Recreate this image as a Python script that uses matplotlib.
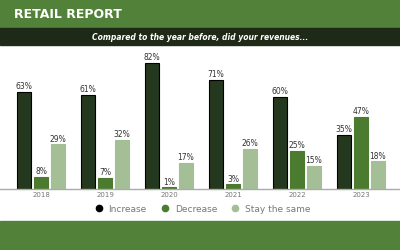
import numpy as np
import matplotlib.pyplot as plt
from matplotlib.patches import Rectangle
from matplotlib.lines import Line2D

years = ["2018", "2019", "2020", "2021", "2022", "2023"]
increase = [63, 61, 82, 71, 60, 35]
decrease = [8, 7, 1, 3, 25, 47]
same = [29, 32, 17, 26, 15, 18]
series_names = ["Increase", "Decrease", "Stay the same"]
colors = ["#24381d", "#4b7b2f", "#a4bf95"]

fig = plt.figure(figsize=(4, 2.5), dpi=100)
fig.patch.set_facecolor("white")

# header / footer bands
fig.patches.append(Rectangle((0, 1 - 28 / 250), 1, 28 / 250, transform=fig.transFigure,
                             color="#52813a", zorder=0))
fig.patches.append(Rectangle((0, 1 - 45 / 250), 1, 17 / 250, transform=fig.transFigure,
                             color="#1e2a17", zorder=0))
fig.patches.append(Rectangle((0, 0), 1, 29 / 250, transform=fig.transFigure,
                             color="#52813a", zorder=0))

fig.text(14 / 400, 1 - 14 / 250, "RETAIL REPORT", color="white", fontsize=9,
         fontweight="bold", family="Liberation Sans Narrow", va="center", ha="left")
fig.text(0.5, 1 - 37 / 250, "Compared to the year before, did your revenues...",
         color="white", fontsize=5.5, fontweight="bold", style="italic",
         va="center", ha="center")

# main axes: baseline at y=189 px, 82% bar top at y=63 px
base = 189
unit = 126 / 82
top = 50
ax = fig.add_axes([0, 1 - base / 250, 1, (base - top) / 250])
ax.set_ylim(0, (base - top) / unit)
ax.set_xlim(-41 / 64, (400 - 41) / 64)
ax.patch.set_alpha(0)

x = np.arange(len(years))
w = 0.23
off = 0.265
for i, (vals, c) in enumerate(zip([increase, decrease, same], colors)):
    ec = "black" if i == 0 else c
    ax.bar(x + (i - 1) * off, vals, width=w, color=c, edgecolor=ec, linewidth=0.8)
    for xi, v in zip(x + (i - 1) * off, vals):
        ax.text(xi, v + 0.5, f"{v}%", ha="center", va="bottom", fontsize=5.5, color="#333333")

for s in ["top", "left", "right"]:
    ax.spines[s].set_visible(False)
ax.spines["bottom"].set_color("#aaaaaa")
ax.spines["bottom"].set_linewidth(1)
ax.set_yticks([])
ax.set_xticks(x)
ax.set_xticklabels(years, fontsize=5, color="#777777")
ax.tick_params(axis="x", length=0, pad=2)

handles = [Line2D([], [], marker="o", linestyle="", markersize=4.5, color=c) for c in colors]
handles[0].set_color("black")
fig.legend(handles, series_names, loc="center", bbox_to_anchor=(0.5, 1 - 209 / 250),
           ncol=3, frameon=False, fontsize=6.5, labelcolor="#777777",
           handletextpad=0.1, columnspacing=1.0)

fig.savefig("out.png", dpi=100)
